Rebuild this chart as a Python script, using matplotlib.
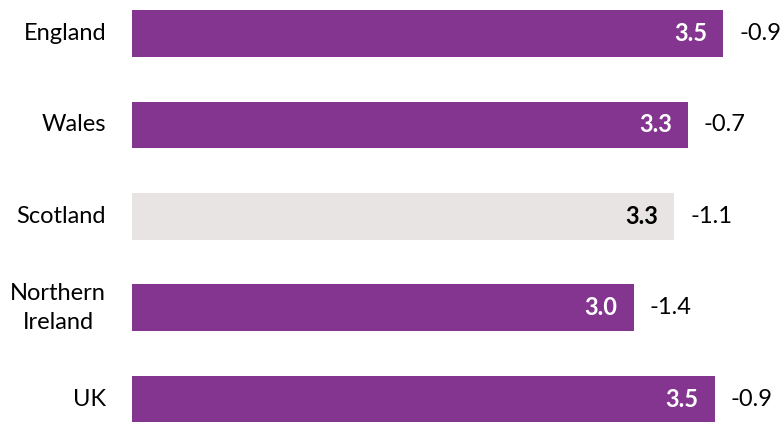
import matplotlib
matplotlib.use('Agg')
import matplotlib.pyplot as plt


COUNTRIES = ['England', 'Wales', 'Scotland', 'Northern\nIreland', 'UK']
BAR_VALUES = [3.50, 3.29, 3.21, 2.97, 3.45]
VALUE_LABELS = ['3.5', '3.3', '3.3', '3.0', '3.5']
CHANGE_LABELS = ['-0.9', '-0.7', '-1.1', '-1.4', '-0.9']
HIGHLIGHT = [False, False, True, False, False]

PURPLE = '#833590'
GREY = '#E8E4E3'
FONT = 'Lato'
SIZE = 17


def main():
	fig = plt.figure(figsize=(7.82, 4.22), dpi=100)
	ax = fig.add_axes([132 / 782, 0, 650 / 782, 1])
	ypos = list(range(len(COUNTRIES)))
	colors = [GREY if h else PURPLE for h in HIGHLIGHT]
	ax.barh(ypos, BAR_VALUES, height=0.51, color=colors)
	ax.set_xlim(0, 650 / 168.9)
	ax.set_ylim(4.25, -0.367)
	ax.axis('off')

	for y, v, lab, ch, h in zip(ypos, BAR_VALUES, VALUE_LABELS, CHANGE_LABELS, HIGHLIGHT):
		ax.annotate(lab, (v, y), xytext=(-16, 0), textcoords='offset pixels',
			ha='right', va='center', fontsize=SIZE, fontweight='bold', family=FONT,
			color='black' if h else 'white')
		ax.annotate(ch, (v, y), xytext=(16, 0), textcoords='offset pixels',
			ha='left', va='center', fontsize=SIZE, family=FONT, color='black')
	for y, name in zip(ypos, COUNTRIES):
		ax.annotate(name, (0, y), xytext=(-26, 0), textcoords='offset pixels',
			ha='right', va='center', multialignment='center', fontsize=SIZE,
			family=FONT, color='black', linespacing=1.45)

	fig.savefig('out.png', dpi=100)


if __name__ == '__main__':
	main()
